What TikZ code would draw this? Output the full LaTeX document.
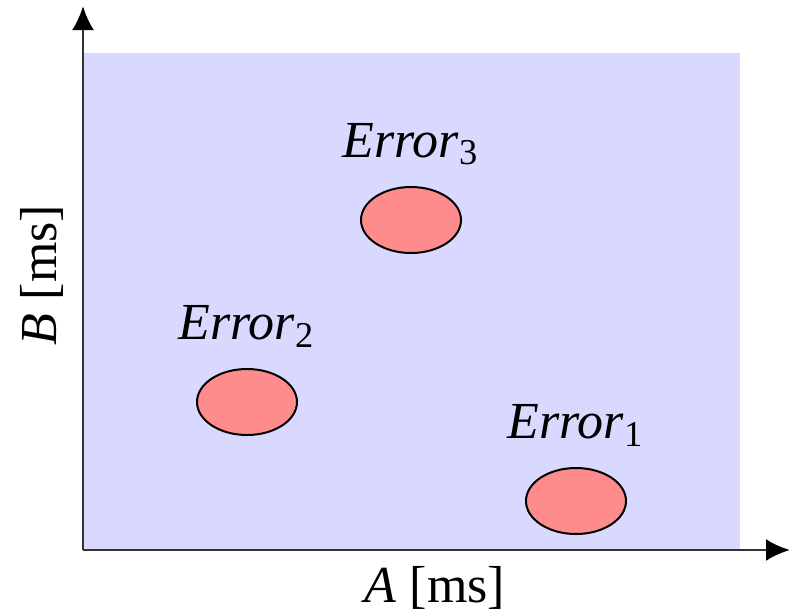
\documentclass[tikz,border=0pt]{standalone}
\usepackage{fontspec}
\setmainfont{Liberation Serif}
\usetikzlibrary{shapes.geometric,positioning,arrows.meta}

\begin{document}
\begin{tikzpicture}
  [x=0.25pt,y=-0.25pt,
   font=\fontsize{13}{15}\selectfont,
   axis/.style={draw=black!80,line width=0.7pt,-{Latex[length=6pt,width=5.5pt,color=black]}},
   err/.style={ellipse,draw,line width=0.5pt,fill=red!45,minimum width=25pt,minimum height=16.5pt,inner sep=0pt},
   errlabel/.style={inner sep=0pt}]
  \useasboundingbox (0,0) rectangle (795,613);
  \fill[blue!15] (83,53) rectangle (740,550);
  \coordinate (origin) at (83,550);
  \coordinate (xend) at (790,550);
  \coordinate (yend) at (83,6);
  \draw[axis] (origin) -- (xend);
  \draw[axis] (origin) -- (yend);
  \node (xlabel) at (435,588) {\textit{A} [ms]};
  \node[rotate=90] (ylabel) at (42,275) {\textit{B} [ms]};
  \node[err] (err1) at (576,501) {};
  \node[err] (err2) at (247,402) {};
  \node[err] (err3) at (411,220) {};
  \node[errlabel,above=5pt of err1] (lab1) {\textit{Error}\textsubscript{1}};
  \node[errlabel,above=5pt of err2] (lab2) {\textit{Error}\textsubscript{2}};
  \node[errlabel,above=5pt of err3] (lab3) {\textit{Error}\textsubscript{3}};
\end{tikzpicture}
\end{document}
